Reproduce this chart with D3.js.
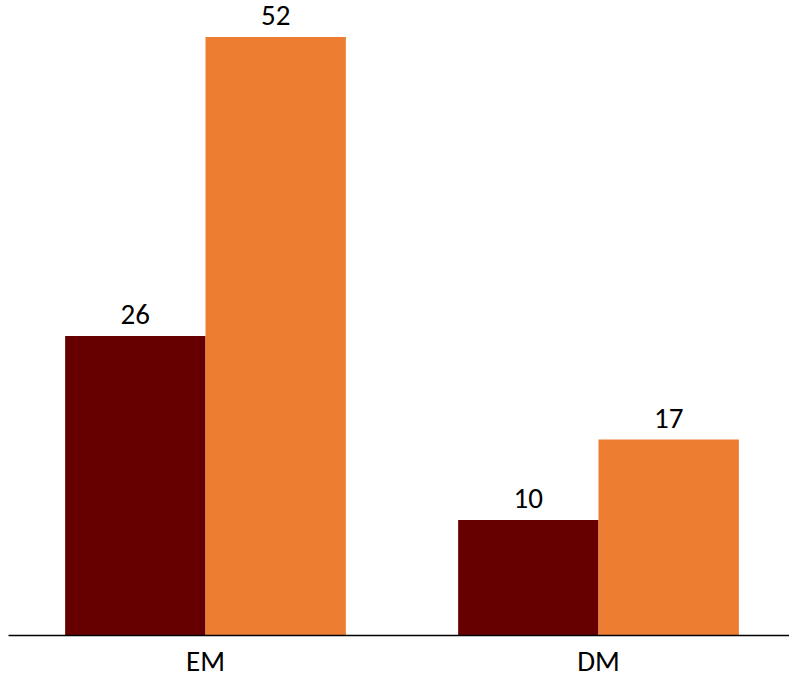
<!DOCTYPE html>
<html>
<head>
<meta charset="utf-8">
<script src="https://cdn.jsdelivr.net/npm/d3@7"></script>
<style>
  body { margin: 0; background: #fff; }
  svg text { font-family: Carlito, "Open Sans", sans-serif; fill: #000; }
</style>
</head>
<body>
<svg width="789" height="680"></svg>
<script>
// chart data
const categories = ["EM", "DM"];
const series = ["s1", "s2"];
const values1 = [26, 10];
const values2 = [52, 17];
const colors = ["#660000", "#ED7D31"];

const svg = d3.select("svg");
const baseY = 635;

const x0 = d3.scaleBand()
  .domain(categories)
  .range([9, 795])
  .padding(0);

const x1 = d3.scaleBand()
  .domain(series)
  .range([0, x0.bandwidth()])
  .paddingInner(0)
  .paddingOuter(0.4);

const y = d3.scaleLinear()
  .domain([0, 52])
  .range([baseY, 37]);

const rows = categories.map((c, i) => ({
  cat: c,
  vals: [values1[i], values2[i]]
}));

const groups = svg.append("g")
  .selectAll("g")
  .data(rows)
  .enter()
  .append("g")
  .attr("transform", d => `translate(${x0(d.cat)},0)`);

groups.selectAll("rect")
  .data(d => d.vals.map((v, j) => ({ key: series[j], v: v, c: colors[j] })))
  .enter()
  .append("rect")
  .attr("x", d => x1(d.key))
  .attr("y", d => y(d.v))
  .attr("width", x1.bandwidth())
  .attr("height", d => baseY - y(d.v))
  .attr("fill", d => d.c);

groups.selectAll("text.val")
  .data(d => d.vals.map((v, j) => ({ key: series[j], v: v })))
  .enter()
  .append("text")
  .attr("class", "val")
  .attr("x", d => x1(d.key) + x1.bandwidth() / 2)
  .attr("y", d => y(d.v) - 12)
  .attr("text-anchor", "middle")
  .attr("font-size", 29)
  .text(d => d.v);

// baseline axis
const axis = svg.append("g")
  .attr("transform", `translate(0,${baseY})`)
  .call(d3.axisBottom(x0).tickSize(0).tickPadding(15));
axis.select(".domain").attr("d", "M8.5,0.5H789").attr("stroke", "#000").attr("stroke-width", 1.5);
axis.selectAll("text")
  .attr("font-size", 29)
  .attr("fill", "#000")
  .style("font-family", "Carlito, 'Open Sans', sans-serif");
</script>
</body>
</html>
